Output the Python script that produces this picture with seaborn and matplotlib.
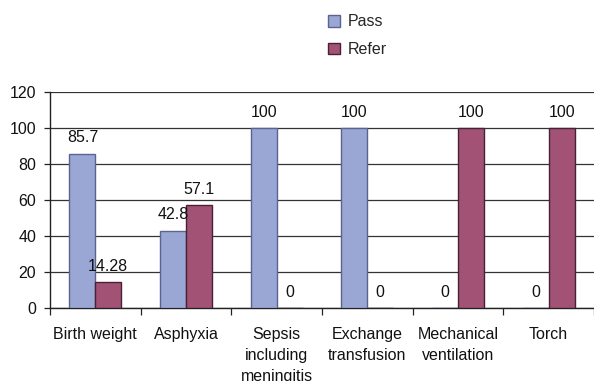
import matplotlib
matplotlib.use("Agg")
import matplotlib.pyplot as plt
from matplotlib.patches import Patch
import numpy as np
import pandas as pd
import seaborn as sns

categories = ["Birth weight", "Asphyxia", "Sepsis\nincluding\nmeningitis",
              "Exchange\ntransfusion", "Mechanical\nventilation", "Torch"]
pass_values = [85.7, 42.8, 100, 100, 0, 0]
refer_values = [14.28, 57.1, 0, 0, 100, 100]
series = ["Pass", "Refer"]
y_ticks = [0, 20, 40, 60, 80, 100, 120]

colors = {"Pass": "#9aa6d4", "Refer": "#a25275"}
edges = {"Pass": "#5b6491", "Refer": "#4a2035"}

df = pd.DataFrame({
    "category": categories * 2,
    "group": ["Pass"] * len(categories) + ["Refer"] * len(categories),
    "value": pass_values + refer_values,
})

sns.set_theme(style="white")
plt.rcParams["font.family"] = ["Liberation Sans", "DejaVu Sans"]
FS = 11.5

W, H = 594, 381
fig = plt.figure(figsize=(W / 100, H / 100), dpi=100)
# plot area: left edge at x=50, bottom at y=308, six 93px-wide categories
cat_px = 93.0
ax = fig.add_axes([50 / W, (H - 308) / H, (W - 50) / W, 216 / H])

sns.barplot(data=df, x="category", y="value", hue="group", order=categories,
            hue_order=series, palette=colors, width=0.57, ax=ax,
            saturation=1, legend=False, zorder=3)

for cont, name in zip(ax.containers, series):
    for bar in cont:
        bar.set_edgecolor(edges[name])
        bar.set_linewidth(1.0)

values = {"Pass": pass_values, "Refer": refer_values}
for cont, name in zip(ax.containers, series):
    for bar, v in zip(cont, values[name]):
        ax.annotate(f"{v:g}", (bar.get_x() + bar.get_width() / 2, v),
                    xytext=(0, 11.5), textcoords="offset points",
                    ha="center", va="center", fontsize=FS, color="#111111",
                    zorder=5)

ax.set_xlim(-0.5, -0.5 + (W - 50) / cat_px)
ax.set_ylim(0, 120)
ax.set_yticks(y_ticks)
ax.set_yticklabels([str(t) for t in y_ticks])
ax.yaxis.grid(True, color="#333333", linewidth=0.9, zorder=0)
ax.xaxis.grid(False)

for s in ["top", "right"]:
    ax.spines[s].set_visible(False)
ax.spines["left"].set_color("#222222")
ax.spines["bottom"].set_color("#222222")
ax.spines["left"].set_linewidth(1.0)
ax.spines["bottom"].set_linewidth(1.0)

ax.tick_params(axis="y", which="major", left=True, length=4, width=0.9,
               color="#222222", pad=6, labelsize=FS, labelcolor="#111111")
ax.set_xticks(range(len(categories)))
ax.set_xticklabels(categories, fontsize=FS, color="#111111", linespacing=1.5,
                   va="top")
ax.tick_params(axis="x", which="major", bottom=False, length=0, pad=14)
ax.set_xticks(np.arange(-0.5, len(categories), 1.0), minor=True)
ax.tick_params(axis="x", which="minor", bottom=True, length=5, width=0.9,
               color="#222222")
ax.set_xlabel("")
ax.set_ylabel("")

handles = [Patch(facecolor=colors[s], edgecolor=edges[s], linewidth=1.0, label=s)
           for s in series]
fig.legend(handles=handles, loc="upper left",
           bbox_to_anchor=(322 / W, 1 - 8 / H), frameon=False, fontsize=FS,
           handlelength=0.75, handleheight=0.75, handletextpad=0.45,
           labelspacing=0.8, borderaxespad=0)

fig.savefig("out.png", dpi=100)
